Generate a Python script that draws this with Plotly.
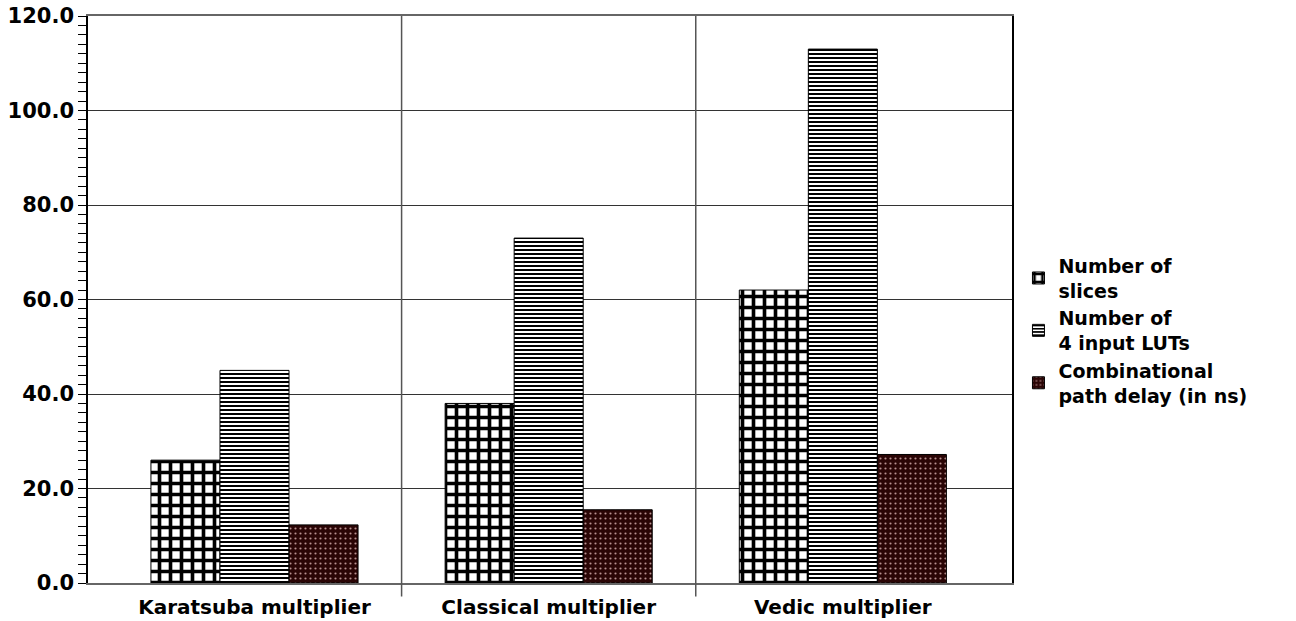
import plotly.graph_objects as go

categories = ["Karatsuba multiplier", "Classical multiplier", "Vedic multiplier"]
series_names = ["Number of<br>slices", "Number of<br>4 input LUTs", "Combinational<br>path delay (in ns)"]
slices = [26, 38, 62]
luts = [45, 73, 113]
delay = [12.3, 15.5, 27.2]
y_ticks = [0, 20, 40, 60, 80, 100, 120]

FONT = "DejaVu Sans"
x = list(range(len(categories)))

styles = [
    dict(color="white", pattern=dict(shape="+", fgcolor="black", bgcolor="white", size=11, solidity=0.55, fillmode="replace")),
    dict(color="white", pattern=dict(shape="-", fgcolor="black", bgcolor="white", size=4, solidity=0.5, fillmode="replace")),
    dict(color="#2a0505", pattern=dict(shape=".", fgcolor="#b89090", bgcolor="#2a0505", size=5, solidity=0.15, fillmode="replace")),
]

fig = go.Figure()
for name, vals, st in zip(series_names, [slices, luts, delay], styles):
    fig.add_trace(go.Bar(
        x=x, y=vals, name=name,
        marker=dict(color=st["color"], pattern=st["pattern"], line=dict(color="black", width=1)),
    ))

for i in range(len(categories) - 1):
    fig.add_shape(type="line", xref="x", yref="paper", x0=i + 0.5, x1=i + 0.5, y0=-0.024, y1=1,
                  line=dict(color="#555555", width=1.5), layer="above")

fig.update_layout(
    width=1296, height=621,
    margin=dict(l=88, r=284, t=16, b=38, autoexpand=False),
    paper_bgcolor="white", plot_bgcolor="white",
    barmode="group", bargap=0.296, bargroupgap=0,
    font=dict(family=FONT, size=19, color="black", weight="bold"),
    showlegend=True,
    legend=dict(x=1.007, y=0.593, xanchor="left", yanchor="top",
                font=dict(family=FONT, size=19, color="black", weight="bold"),
                tracegroupgap=0, bgcolor="rgba(0,0,0,0)", itemwidth=30),
    xaxis=dict(
        range=[-0.566, 2.575], tickvals=x, ticktext=categories,
        showgrid=False, zeroline=False, ticks="", ticklabelstandoff=5,
        showline=True, linecolor="#666666", linewidth=1.5, mirror=True,
        automargin=False, ticklabeloverflow="allow",
        tickfont=dict(family=FONT, size=20, color="black", weight="bold"),
    ),
    yaxis=dict(
        range=[0, 120], tickvals=y_ticks, tickformat=".1f",
        showgrid=True, gridcolor="#333333", gridwidth=1, zeroline=False,
        ticks="outside", ticklen=8, tickcolor="black", tickwidth=1,
        showline=True, linecolor="black", linewidth=1.5, mirror=True,
        ticklabelstandoff=0, automargin=False, ticklabeloverflow="allow",
        minor=dict(dtick=2, ticks="outside", ticklen=8, tickcolor="black", tickwidth=1, showgrid=False),
        tickfont=dict(family=FONT, size=21, color="black", weight="bold"),
    ),
)

fig.write_html("out.html", config={"displayModeBar": False},
               post_script="document.body.style.margin='0';")
